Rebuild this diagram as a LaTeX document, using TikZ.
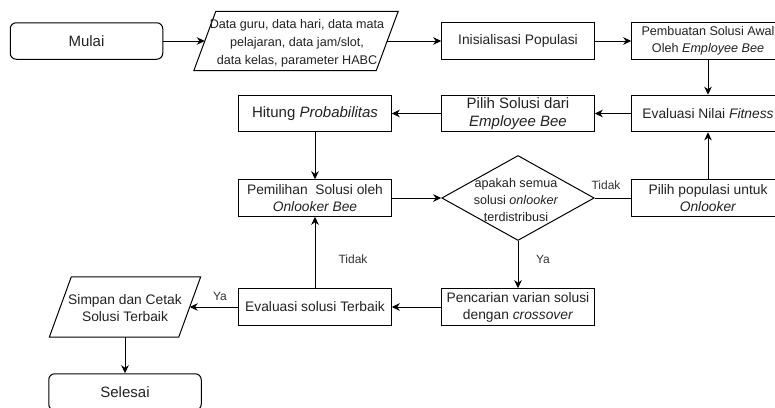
\documentclass[tikz,border=0pt]{standalone}
\usepackage{fontspec}
\setmainfont{Liberation Sans}
\usetikzlibrary{shapes.geometric,arrows.meta}
\definecolor{txt}{HTML}{222222}
\definecolor{lbltxt}{HTML}{333333}
\newcommand{\fsA}{\fontsize{13.8}{17}\selectfont}
\newcommand{\fsB}{\fontsize{15}{17.3}\selectfont}
\newcommand{\fsC}{\fontsize{12.6}{17}\selectfont}
\begin{document}
\begin{tikzpicture}[x=1pt,y=-1pt,
  >={Stealth[length=8pt,width=7.5pt,inset=2.5pt]},
  conn/.style={draw=black,line width=1pt},
  arr/.style={conn,->},
  box/.style={draw=black,line width=1pt,fill=white,rectangle,minimum width=152.5pt,minimum height=36.5pt,inner sep=0pt,align=center,text=txt,font=\fsA},
  term/.style={box,rounded corners=6pt,font=\fsB},
  iobody/.style={rectangle,inner sep=0pt,minimum height=59pt},
  iolines/.style={draw=black,line width=1pt,line join=miter},
  decision/.style={draw=black,line width=1pt,fill=white,diamond,inner sep=0pt,minimum width=152.5pt,minimum height=85pt},
  txtnode/.style={inner sep=0pt,align=center,text=txt},
  lbl/.style={inner sep=0pt,text=lbltxt,font=\fontsize{12}{14}\selectfont}
]
\useasboundingbox (0,0) rectangle (775,407);
\fill[white] (0,0) rectangle (775,407);
\clip (0,0) rectangle (775,407);

% top row
\node[term] (mulai) at (86.5,41) {Mulai};
\node[iobody,minimum width=182pt] (data) at (296,41) {};
\draw[iolines] ([xshift=11pt]data.north west) -- ([xshift=11pt]data.north east)
  -- ([xshift=-11pt]data.south east) -- ([xshift=-11pt]data.south west) -- cycle;
\node[txtnode,font=\fontsize{12.6}{18}\selectfont] (datatext) at (297,43)
  {Data guru, data hari, data mata\\pelajaran, data jam/slot,\\data kelas, parameter HABC};
\node[box] (init) at (518,41) {Inisialisasi Populasi};
\node[box,font=\fsC] (pemb) at (708,41) {Pembuatan Solusi Awal\\Oleh \textit{Employee Bee}};

% second row
\node[box] (evfit) at (708,113.5) {Evaluasi Nilai \textit{Fitness}};
\node[box,font=\fsB] (pilsol) at (518,113.5) {Pilih Solusi dari\\\textit{Employee Bee}};
\node[box,font=\fsB] (hitung) at (315,113.5) {Hitung \textit{Probabilitas}};

% third row
\node[box] (pemil) at (315,198) {Pemilihan\ \ Solusi oleh\\\textit{Onlooker Bee}};
\node[decision] (dec) at (518,198) {};
\node[txtnode,font=\fontsize{12.6}{16.7}\selectfont] (dectext) at (516,200)
  {apakah semua\\solusi \textit{onlooker}\\terdistribusi};
\node[box] (pilpop) at (708,198) {Pilih populasi untuk\\\textit{Onlooker}};

% bottom row
\node[box] (penc) at (518,307) {Pencarian varian solusi\\dengan \textit{crossover}};
\node[box] (evsol) at (315,307) {Evaluasi solusi Terbaik};
\node[iobody,minimum width=129pt,minimum height=60pt] (simpan) at (125,307) {};
\draw[iolines] ([xshift=11pt]simpan.north west) -- ([xshift=11pt]simpan.north east)
  -- ([xshift=-11pt]simpan.south east) -- ([xshift=-11pt]simpan.south west) -- cycle;
\node[txtnode,font=\fsA] (simpantext) at (125,308.5) {Simpan dan Cetak\\Solusi Terbaik};
\node[term] (selesai) at (125,392) {Selesai};

% connectors
\draw[arr] (mulai) -- (data);
\draw[arr] (data) -- (init);
\draw[arr] (init) -- (pemb);
\draw[arr] (pemb) -- (evfit);
\draw[arr] (evfit) -- (pilsol);
\draw[arr] (pilsol) -- (hitung);
\draw[arr] (hitung) -- (pemil);
\draw[arr] (pemil) -- (dec);
\draw[conn] (dec) -- (pilpop);
\draw[arr] (pilpop) -- (evfit);
\draw[arr] (dec) -- (penc);
\draw[arr] (penc) -- (evsol);
\draw[arr] (evsol) -- (pemil);
\draw[arr] (evsol) -- (simpan);
\draw[arr] (simpan) -- (selesai);

% labels
\node[lbl] (tidakA) at (606,185) {Tidak};
\node[lbl] (yaA) at (543,259) {Ya};
\node[lbl] (tidakB) at (353,259) {Tidak};
\node[lbl] (yaB) at (220,296) {Ya};
\end{tikzpicture}
\end{document}
